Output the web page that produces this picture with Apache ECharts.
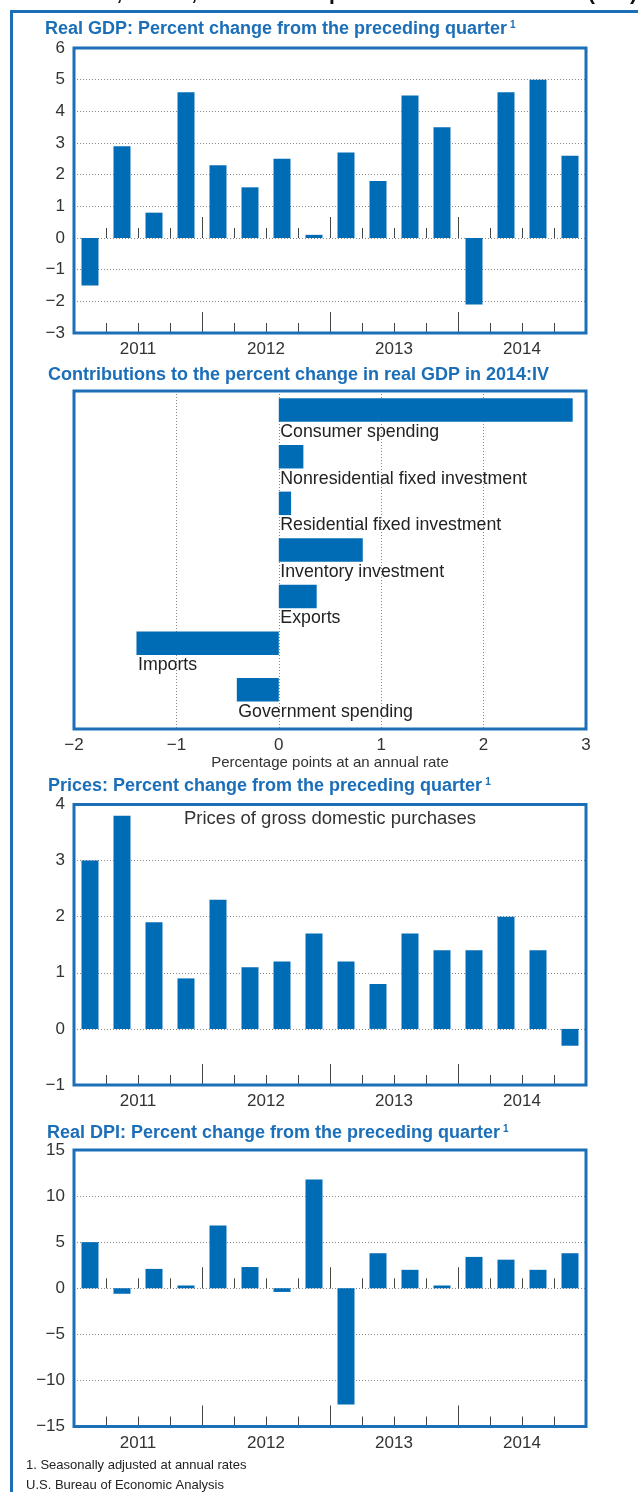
<!DOCTYPE html>
<html>
<head>
<meta charset="utf-8">
<script src="https://cdn.jsdelivr.net/npm/echarts@6/dist/echarts.min.js"></script>
<style>
html,body{margin:0;padding:0;background:#fff;}
#c{width:638px;height:1492px;}
</style>
</head>
<body>
<div id="c"></div>
<script>
// ---------------- data ----------------
const quarters = ['2011 Q1','2011 Q2','2011 Q3','2011 Q4','2012 Q1','2012 Q2','2012 Q3','2012 Q4',
                  '2013 Q1','2013 Q2','2013 Q3','2013 Q4','2014 Q1','2014 Q2','2014 Q3','2014 Q4'];
const years = ['2011','2012','2013','2014'];
const gdpValues   = [-1.5, 2.9, 0.8, 4.6, 2.3, 1.6, 2.5, 0.1, 2.7, 1.8, 4.5, 3.5, -2.1, 4.6, 5.0, 2.6];
const priceValues = [3.0, 3.8, 1.9, 0.9, 2.3, 1.1, 1.2, 1.7, 1.2, 0.8, 1.7, 1.4, 1.4, 2.0, 1.4, -0.3];
const dpiValues   = [5.0, -0.6, 2.1, 0.3, 6.8, 2.3, -0.4, 11.8, -12.6, 3.8, 2.0, 0.3, 3.4, 3.1, 2.0, 3.8];
const contribCategories = ['Consumer spending','Nonresidential fixed investment','Residential fixed investment',
                           'Inventory investment','Exports','Imports','Government spending'];
const contribValues = [2.87, 0.24, 0.12, 0.82, 0.37, -1.39, -0.41];

const titles = {
  gdp: 'Real GDP: Percent change from the preceding quarter',
  contrib: 'Contributions to the percent change in real GDP in 2014:IV',
  prices: 'Prices: Percent change from the preceding quarter',
  dpi: 'Real DPI: Percent change from the preceding quarter'
};
const pricesNote = 'Prices of gross domestic purchases';
const contribAxisName = 'Percentage points at an annual rate';
const footnotes = ['1. Seasonally adjusted at annual rates', 'U.S. Bureau of Economic Analysis'];

// ---------------- styles ----------------
const BAR = '#006cb6';
const FRAME = '#1c6fb7';
const TITLE = '#1b6eb8';
const TXT = '#333';
const FONT = "'Liberation Sans', Arial, Helvetica, sans-serif";
const minus = v => (v < 0 ? '\u2212' + Math.abs(v) : String(v));

const chart = echarts.init(document.getElementById('c'), null, {renderer: 'canvas'});

const grids = [
  {left: 74, top: 48, width: 512, height: 285},     // GDP
  {left: 74, top: 391, width: 512, height: 338},    // contributions
  {left: 74, top: 804.5, width: 512, height: 280.5},// prices
  {left: 74, top: 1150, width: 512, height: 276.5}  // DPI
].map(g => Object.assign(g, {show: true, borderColor: FRAME, borderWidth: 3, backgroundColor: 'transparent', z: 10}));

const xAxes = [];
const yAxes = [];
const series = [];

function valueY(gridIndex, min, max, interval) {
  yAxes.push({
    type: 'value', gridIndex, min, max, interval,
    axisLine: {show: false}, axisTick: {show: false},
    axisLabel: {formatter: minus, color: TXT, fontSize: 17, fontFamily: FONT, margin: 9},
    splitLine: {show: true, lineStyle: {color: '#888', type: [1, 2], width: 1}}
  });
  return yAxes.length - 1;
}
function quarterAxis(gridIndex, yIdx, onZero) {
  xAxes.push({
    type: 'category', gridIndex, data: quarters, position: 'bottom',
    axisLine: {show: false, onZero: onZero, onZeroAxisIndex: onZero ? yIdx : undefined},
    axisTick: {show: true, inside: true, length: 10, interval: 0, lineStyle: {color: '#444', width: 1}},
    axisLabel: {show: false}, splitLine: {show: false}
  });
  return xAxes.length - 1;
}
function yearAxis(gridIndex, yIdx, onZero, labels) {
  xAxes.push({
    type: 'category', gridIndex, data: years, position: 'bottom',
    axisLine: {show: false, onZero: onZero, onZeroAxisIndex: onZero ? yIdx : undefined},
    axisTick: {show: true, inside: true, length: 21, interval: 0, lineStyle: {color: '#444', width: 1}},
    axisLabel: {show: labels, interval: 0, color: TXT, fontSize: 17, fontFamily: FONT, margin: 8},
    splitLine: {show: false}
  });
  return xAxes.length - 1;
}
function barChart(gridIndex, values, min, max, interval, zeroTicks) {
  const y = valueY(gridIndex, min, max, interval);
  const xq = quarterAxis(gridIndex, y, false);
  yearAxis(gridIndex, y, false, true);
  if (zeroTicks) { quarterAxis(gridIndex, y, true); yearAxis(gridIndex, y, true, false); }
  series.push({
    type: 'bar', xAxisIndex: xq, yAxisIndex: y, data: values, barWidth: 17,
    itemStyle: {color: BAR}, silent: true, z: 3
  });
}

// GDP
barChart(0, gdpValues, -3, 6, 1, true);

// Contributions
const cy = yAxes.push({type: 'value', gridIndex: 1, inverse: true, min: -0.41, max: 6.84, show: false,
  splitLine: {show: false}}) - 1;
const cx = xAxes.push({
  type: 'value', gridIndex: 1, min: -2, max: 3, interval: 1, position: 'bottom',
  axisLine: {show: false, onZero: false}, axisTick: {show: false},
  axisLabel: {formatter: minus, color: TXT, fontSize: 17, fontFamily: FONT, margin: 8},
  splitLine: {show: true, lineStyle: {color: '#888', type: [1, 2], width: 1}},
  name: contribAxisName, nameLocation: 'middle', nameGap: 25,
  nameTextStyle: {color: TXT, fontSize: 15, fontFamily: FONT}
}) - 1;
series.push({
  type: 'custom', xAxisIndex: cx, yAxisIndex: cy, silent: true, z: 3,
  data: contribValues.map((v, i) => [v, i]),
  renderItem: function (params, api) {
    const v = api.value(0), i = api.value(1);
    const p0 = api.coord([0, i]), p1 = api.coord([v, i]);
    const h = 23.5;
    const x = Math.min(p0[0], p1[0]), w = Math.abs(p1[0] - p0[0]);
    const yc = p0[1];
    return {type: 'group', children: [
      {type: 'rect', shape: {x: x, y: yc - h / 2, width: w, height: h}, style: {fill: BAR}},
      {type: 'text', style: {text: contribCategories[i], x: x + 1.5, y: yc + 22,
        verticalAlign: 'middle', align: 'left', fill: '#222', fontSize: 17.75, fontFamily: FONT}}
    ]};
  }
});

// Prices
barChart(2, priceValues, -1, 4, 1, false);
// DPI
barChart(3, dpiValues, -15, 15, 5, true);

function titleText(text, x, y) {
  return {type: 'text', x: x, y: y, silent: true, z: 20,
    style: {text: text + '{sup|1}', fill: TITLE, fontSize: 18, fontWeight: 'bold', fontFamily: FONT,
      verticalAlign: 'middle', align: 'left',
      rich: {sup: {fontSize: 10, fontWeight: 'bold', fill: TITLE, fontFamily: FONT, verticalAlign: 'top', padding: [0, 0, 0, 3]}}}};
}

const graphic = [
  // outer frame (partially visible)
  {type: 'rect', shape: {x: 11.5, y: 11.5, width: 720, height: 1600}, silent: true, z: 0,
    style: {fill: 'none', stroke: FRAME, lineWidth: 3}},
  // clipped heading above frame
  {type: 'text', x: 637, y: -6, silent: true,
    style: {text: 'Real GDP, Prices, and Real Disposable Personal Income (DPI)', align: 'right', verticalAlign: 'middle',
      fill: '#111', fontSize: 21, fontWeight: 'bold', fontFamily: FONT}},
  titleText(titles.gdp, 45, 29),
  {type: 'text', x: 48, y: 375, silent: true, z: 20,
    style: {text: titles.contrib, fill: TITLE, fontSize: 18, fontWeight: 'bold', fontFamily: FONT, verticalAlign: 'middle'}},
  titleText(titles.prices, 48, 786),
  titleText(titles.dpi, 47, 1133),
  {type: 'text', x: 330, y: 819, silent: true, z: 20,
    style: {text: pricesNote, fill: TXT, fontSize: 18.5, fontFamily: FONT, align: 'center', verticalAlign: 'middle'}},
  {type: 'text', x: 26, y: 1465, silent: true,
    style: {text: footnotes[0], fill: '#222', fontSize: 13, fontFamily: FONT, verticalAlign: 'middle'}},
  {type: 'text', x: 26, y: 1485, silent: true,
    style: {text: footnotes[1], fill: '#222', fontSize: 13, fontFamily: FONT, verticalAlign: 'middle'}}
];

chart.setOption({
  animation: false,
  backgroundColor: '#fff',
  grid: grids,
  xAxis: xAxes,
  yAxis: yAxes,
  series: series,
  graphic: graphic
});
</script>
</body>
</html>
